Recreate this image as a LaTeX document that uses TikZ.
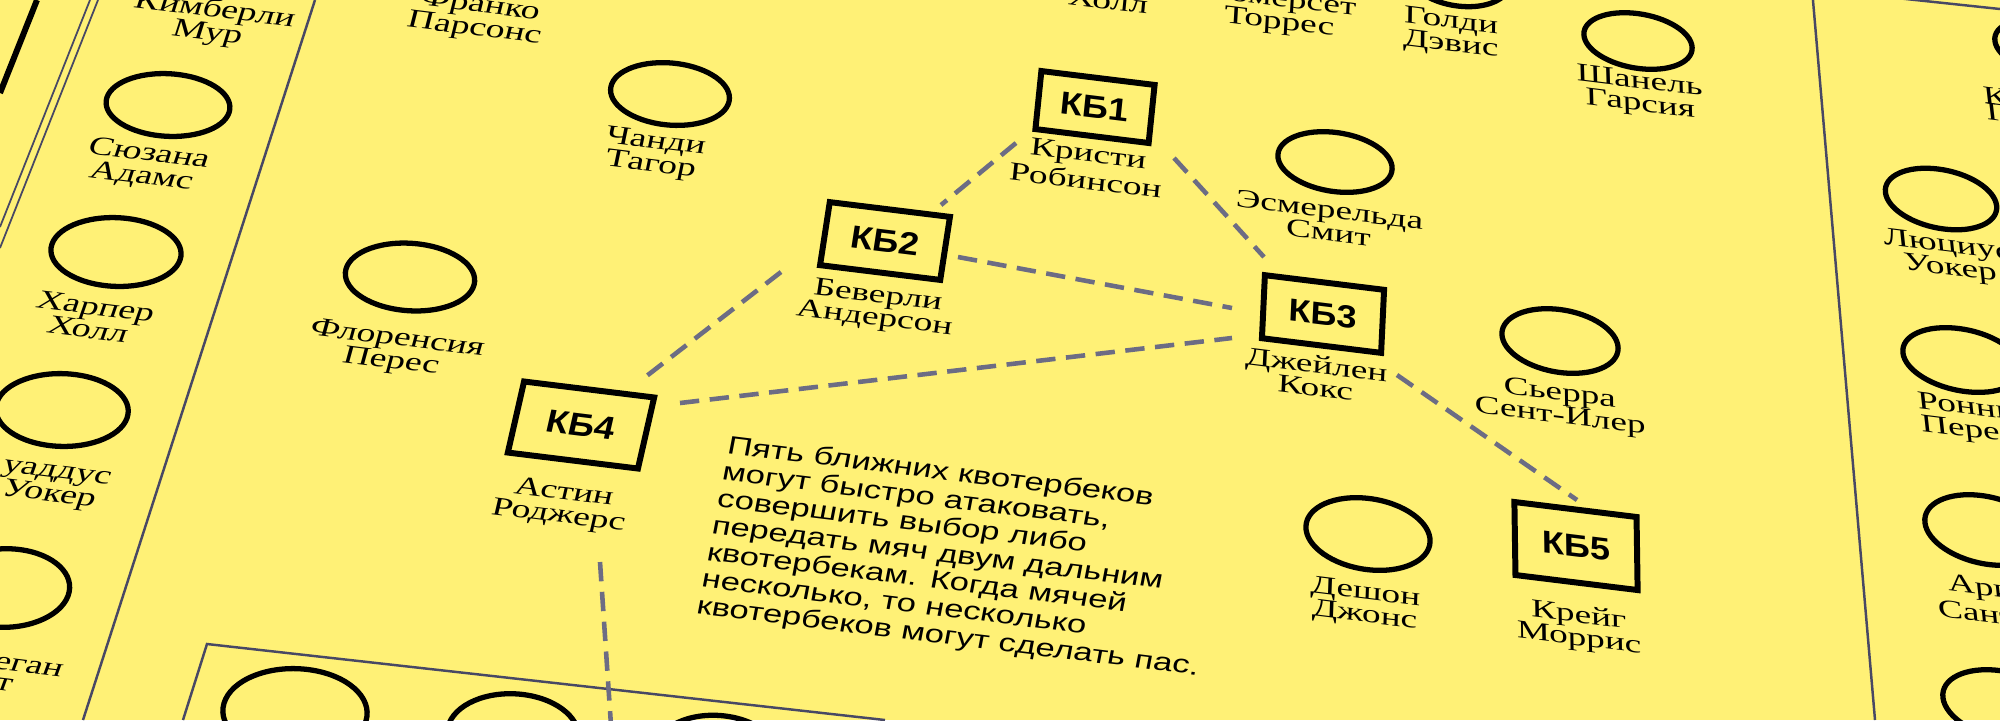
\documentclass[tikz,border=0pt]{standalone}
\usepackage{fontspec}
\setmainfont{Liberation Serif}
\newfontfamily\sansf{Liberation Sans}
\usetikzlibrary{shapes.geometric}
\definecolor{bg}{RGB}{255,241,118}
\definecolor{edgec}{RGB}{72,72,100}
\definecolor{connc}{RGB}{108,108,132}
\newcommand\namefont{\fontsize{7.3}{6.5}\selectfont}
\newcommand\parafont{\sansf\fontsize{7.1}{7.6}\selectfont}
\newcommand\kbfont{\sansf\bfseries\fontsize{9}{9}\selectfont}
\tikzset{
  warp/.style n args={3}{shift={(#1,#2)},
    /utils/exec={\pgfmathsetmacro\wL{-0.37+0.00024*#1}%
      \pgfmathsetmacro\wa{#3*cos(7)}%
      \pgfmathsetmacro\wb{-#3*sin(7)}%
      \pgfmathsetmacro\wc{-\wL}},
    cm={\wa,\wb,\wc,1,(0,0)}},
  ring/.style={draw=black, line width=1.5pt, ellipse, inner sep=0pt, transform shape},
  kbbox/.style={draw=black, line width=1.7pt, rectangle, inner sep=0pt, transform shape, font=\kbfont},
  nm/.style={align=center, inner sep=0pt, transform shape, font=\namefont},
  para/.style={align=left, inner sep=0pt, transform shape, font=\parafont, anchor=north west},
  conn/.style={draw=connc, line width=1.3pt, dash pattern=on 5.5pt off 3pt},
  border/.style={draw=edgec, line width=0.7pt},
}
\newcommand\Ring[5]{\begin{scope}[warp={#2}{#3}{1}]\node[ring, minimum width=#4*0.1mm, minimum height=#5*0.1mm] (#1) at (0,0) {};\end{scope}}
\newcommand\Name[5][]{\begin{scope}[warp={#3}{#4}{1.46}]\node[nm,#1] (#2) at (0,0) {#5};\end{scope}}
\newcommand\KB[6]{\begin{scope}[warp={#2}{#3}{1.15}]\node[kbbox, minimum width=#4*0.1mm/1.15, minimum height=#5*0.1mm] (#1) at (0,0) {#6};\end{scope}}
\begin{document}
\begin{tikzpicture}[x=0.01cm, y=-0.01cm]
\useasboundingbox (0,0) rectangle (2000,720);
\fill[bg] (0,0) rectangle (2000,720);
\clip (0,0) rectangle (2000,720);

% panel borders
\draw[black, line width=1.7pt] (37,0) -- (0,93);
\draw[border, line width=0.5pt] (90,0) -- (0,227);
\draw[border, line width=0.5pt] (98,0) -- (0,248);
\draw[border] (315,0) -- (83,720);
\draw[border] (2000,9) -- (1812,-11) -- (1875,720);
\draw[border] (885,720) -- (207,644) -- (183,720);

% rings
\Ring{suz}{168}{105}{123}{61}
\Ring{harp}{116}{252}{129}{67}
\Ring{tad}{62}{410}{131}{71}
\Ring{meg}{5}{588}{127}{77}
\Ring{chandi}{670}{94}{119}{61}
\Ring{flor}{410}{277}{129}{66}
\Ring{goldi}{1458}{-24}{105}{60}
\Ring{esm}{1335}{162}{115}{59}
\Ring{shan}{1638}{41}{109}{55}
\Ring{sier}{1560}{341}{117}{63}
\Ring{desh}{1368}{534}{125}{71}
\Ring{rk}{2052}{48}{115}{57}
\Ring{luc}{1941}{199}{112}{60}
\Ring{ron}{1962}{360}{119}{63}
\Ring{ari}{1985}{530}{121}{69}
\Ring{rb}{2003}{705}{121}{69}
\Ring{b1}{295}{712}{143}{85}
\Ring{b2}{513}{735}{131}{81}
\Ring{b3}{717}{757}{128}{82}

% names
\Name{kimN}{211}{22}{Кимберли\\Мур}
\Name{suzN}{145}{166}{Сюзана\\Адамс}
\Name{harpN}{92}{318}{Харпер\\Холл}
\Name{tadN}{52}{486}{уаддус\\Уокер}
\Name{megN}{13}{662}{Меган}
\Name{megN2}{4}{685}{т}
\Name{frN}{477}{18}{Франко\\Парсонс}
\Name{chN}{653}{154}{Чанди\\Тагор}
\Name{flN}{394}{351}{Флоренсия\\Перес}
\Name{holN}{1108}{1}{Холл}
\Name{somN}{1280}{12}{Сомерсет\\Торрес}
\Name{golN}{1451}{34}{Голди\\Дэвис}
\Name{shN}{1640}{94}{Шанель\\Гарсия}
\Name{krN}{1087}{167}{Кристи\\Робинсон}
\Name{bevN}{876}{308}{Беверли\\Андерсон}
\Name{esN}{1329}{221}{Эсмерельда\\Смит}
\Name{jaN}{1316}{376}{Джейлен\\Кокс}
\Name{siN}{1560}{406}{Сьерра\\Сент-Илер}
\Name{deN}{1365}{605}{Дешон\\Джонс}
\Name{crN}{1579}{628}{Крейг\\Моррис}
\Name{asN}{561}{505}{Астин\\Роджерс}
\Name{luN}{1949}{258}{Люциус\\Уокер}
\Name{roN}{1968}{420}{Ронни\\Перес}
\Name[anchor=west]{rk1}{1982}{95}{К}
\Name[anchor=west]{rk2}{1985}{111}{Г}
\Name[anchor=west]{ar1}{1947}{585}{Ари}
\Name[anchor=west]{ar2}{1937}{608}{Сант}

% quarterback boxes
\KB{kb1}{1095}{107}{114}{58}{КБ1}
\KB{kb2}{885}{241}{121}{63}{КБ2}
\KB{kb3}{1323}{314}{120}{63}{КБ3}
\KB{kb4}{581}{425}{131}{71}{КБ4}
\KB{kb5}{1576}{546}{123}{73}{КБ5}

% paragraph
\begin{scope}[warp={729}{434}{1.38}]
\node[para] (txt) at (0,0) {Пять ближних квотербеков\\могут быстро атаковать,\\совершить выбор либо\\передать мяч двум дальним\\квотербекам. Когда мячей\\несколько, то несколько\\квотербеков могут сделать пас.};
\end{scope}

% connector ends
\coordinate (kb1a) at (1016,143);
\coordinate (kb2a) at (941,205);
\coordinate (kb1b) at (1174,158);
\coordinate (kb3a) at (1264,257);
\coordinate (kb2b) at (958,257);
\coordinate (kb3b) at (1232,308);
\coordinate (kb2c) at (781,272);
\coordinate (kb4a) at (644,378);
\coordinate (kb4b) at (680,403);
\coordinate (kb3c) at (1232,338);
\coordinate (kb3d) at (1397,375);
\coordinate (kb5a) at (1577,500);
\coordinate (kb4c) at (600,562);
\coordinate (down) at (612,740);

\draw[conn] (kb1a) -- (kb2a);
\draw[conn] (kb1b) -- (kb3a);
\draw[conn] (kb2b) -- (kb3b);
\draw[conn] (kb2c) -- (kb4a);
\draw[conn] (kb4b) -- (kb3c);
\draw[conn] (kb3d) -- (kb5a);
\draw[conn] (kb4c) -- (down);
\end{tikzpicture}
\end{document}
